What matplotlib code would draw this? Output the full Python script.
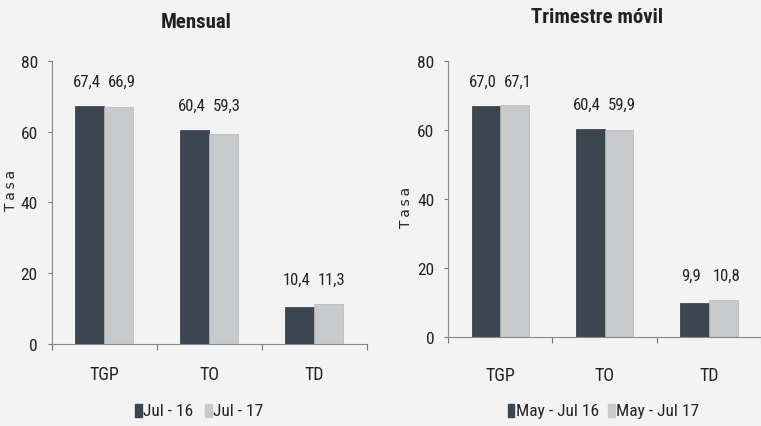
import matplotlib
matplotlib.use('Agg')
import matplotlib.pyplot as plt
import numpy as np
from matplotlib.patches import Rectangle

plt.rcParams['font.family'] = ['Roboto Condensed', 'Liberation Sans Narrow', 'Liberation Sans', 'DejaVu Sans']

categories = ['TGP', 'TO', 'TD']
mensual_16 = [67.4, 60.4, 10.4]
mensual_17 = [66.9, 59.3, 11.3]
trim_16 = [67.0, 60.4, 9.9]
trim_17 = [67.1, 59.9, 10.8]
series_mensual = ['Jul - 16', 'Jul - 17']
series_trim = ['May - Jul 16', 'May - Jul 17']
yticks = [0, 20, 40, 60, 80]

dark = '#3b4650'
light = '#c7c9ca'
bg = '#f3f3f3'

fig = plt.figure(figsize=(7.61, 4.27), dpi=100, facecolor=bg)


def panel(rect, a, b, title, title_pos, names, leg_x, xpad, ylab_pos):
    ax = fig.add_axes(rect, facecolor=bg)
    x = np.arange(len(categories)) + 0.5
    w = 0.275
    ax.bar(x - w / 2, a, w, color=dark, edgecolor='#2e363e', linewidth=0.5)
    ax.bar(x + w / 2, b, w, color=light, edgecolor='#b5b7b8', linewidth=0.5)
    for xi, v1, v2 in zip(x, a, b):
        top = max(v1, v2) + 4.8
        ax.text(xi - w / 2 - 0.03, top, f'{v1:.1f}'.replace('.', ','),
                ha='center', va='bottom', fontsize=12, color='#222222')
        ax.text(xi + w / 2 + 0.03, top, f'{v2:.1f}'.replace('.', ','),
                ha='center', va='bottom', fontsize=12, color='#222222')
    ax.set_xlim(0, len(categories))
    ax.set_ylim(0, 80)
    ax.set_yticks(yticks)
    ax.set_yticklabels([str(t) for t in yticks], fontsize=12.5, color='#222222')
    ax.set_xticks(np.arange(len(categories) + 1))
    ax.set_xticklabels([])
    ax.set_xticks(x, minor=True)
    ax.set_xticklabels(categories, minor=True, fontsize=13, color='#222222')
    ax.tick_params(axis='x', which='minor', length=0, pad=xpad)
    ax.tick_params(axis='x', which='major', length=4, color='#777777', direction='out')
    ax.tick_params(axis='y', length=3, color='#777777', pad=7)
    for s in ['top', 'right']:
        ax.spines[s].set_visible(False)
    for s in ['left', 'bottom']:
        ax.spines[s].set_color('#888888')
        ax.spines[s].set_linewidth(0.8)
    fig.text(ylab_pos[0], ylab_pos[1], 'T\u2009a\u2009s\u2009a', rotation=90, ha='center',
             va='center', family='DejaVu Sans', fontsize=10, color='#222222')
    fig.text(title_pos[0], title_pos[1], title, ha='center', va='center', fontsize=15,
             fontweight='bold', color='#222222')
    # legend
    ly = 0.036
    for i, (nm, col) in enumerate(zip(names, [dark, light])):
        lx = leg_x[i]
        fig.patches.append(Rectangle((lx, ly - 0.016), 0.009, 0.032, color=col,
                                     transform=fig.transFigure, figure=fig))
        fig.text(lx + 0.011, ly, nm, ha='left', va='center', fontsize=12.5, color='#222222')
    return ax


panel([0.068, 0.192, 0.414, 0.663], mensual_16, mensual_17, 'Mensual', (0.258, 0.948),
      series_mensual, [0.177, 0.269], 15, (0.014, 0.555))
panel([0.589, 0.208, 0.411, 0.647], trim_16, trim_17, 'Trimestre móvil', (0.784, 0.958),
      series_trim, [0.667, 0.799], 21, (0.533, 0.515))

fig.savefig('out.png', dpi=100, facecolor=bg)
